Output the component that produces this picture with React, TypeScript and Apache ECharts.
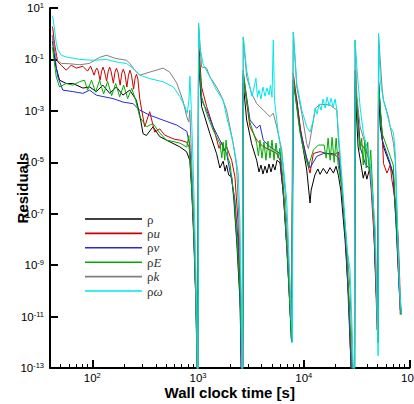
import React, { useEffect, useRef } from "react";
import * as echarts from "echarts";

type Pt = [number, number];

const seriesNames = ["ρ", "ρu", "ρv", "ρE", "ρk", "ρω"];
const xMajorTicks = [100, 1000, 10000, 100000];
const xMinorTicks = [
  50, 60, 70, 80, 90,
  200, 300, 400, 500, 600, 700, 800, 900,
  2000, 3000, 4000, 5000, 6000, 7000, 8000, 9000,
  20000, 30000, 40000, 50000, 60000, 70000, 80000, 90000,
];
const yMajorTicks = [1e-13, 1e-11, 1e-9, 1e-7, 1e-5, 1e-3, 1e-1, 10];

const rho: Pt[] = [
  [41.8, 0.5], [42.3, 0.42], [44.9, 0.06], [49.0, 0.0156], [56.7, 0.0116], [65.5, 0.0116],
  [81.5, 0.0077], [94.3, 0.0085], [109, 0.0056], [126, 0.01], [146, 0.0048], [169, 0.0085],
  [195, 0.0041], [226, 0.0064], [261, 0.0026], [281, 0.0007], [302, 1.3e-4], [325, 1.1e-4],
  [375, 2.4e-4], [434, 1.0e-4], [502, 7.3e-5], [671, 4.0e-5], [778, 2.6e-5], [836, 1.2e-5],
  [873, 8e-7], [912, 1e-8], [953, 4.5e-11], [990, 1e-13],
  [1005, 1e-14], [1011, 0.093], [1080, 0.0015], [1294, 1.3e-4], [1496, 2.2e-5], [1610, 6e-6],
  [1730, 1.1e-5], [1800, 4.5e-6], [1862, 7.8e-6], [1950, 3.2e-6], [2080, 2.7e-6], [2185, 3.4e-7],
  [2333, 6e-9], [2490, 4.5e-11], [2570, 1e-13],
  [2640, 1e-14], [2676, 0.0116], [2884, 4.4e-4], [3213, 5.3e-5], [3585, 1.2e-5], [3770, 4.2e-6],
  [3938, 7.8e-6], [4114, 3.5e-6], [4298, 7.1e-6], [4489, 3.8e-6], [4690, 8.6e-6], [4898, 4.2e-6],
  [5117, 8.6e-6], [5345, 5e-6], [5584, 1.2e-5], [5962, 9.4e-6], [6361, 8.3e-7], [6950, 4e-9],
  [7650, 1.3e-12],
  [7960, 0.01], [8590, 0.0026], [9580, 7.3e-5], [10670, 5e-6], [11460, 2.6e-7], [11750, 8.3e-7],
  [12730, 3.2e-6], [13600, 5.5e-6], [14250, 3.4e-6], [15300, 5.8e-6], [16520, 3.6e-6],
  [17700, 6.2e-6], [19090, 3.8e-6], [20200, 7e-6], [21290, 3e-6], [22390, 8.3e-7],
  [24580, 9.6e-9], [26670, 4.5e-11], [28060, 1e-13],
  [30200, 1e-14], [30580, 0.0085], [32650, 4e-5], [35500, 5e-6], [36500, 2.4e-6], [38070, 4.5e-6],
  [39500, 2.2e-6], [42460, 6.8e-6], [45380, 1.4e-7], [48410, 1.1e-10], [50580, 1e-12],
  [50930, 0.0064], [52840, 2.4e-4], [56750, 4e-5], [61180, 1.7e-5], [65740, 7.8e-6],
  [70180, 3.2e-6], [74970, 3.8e-8], [80010, 1.1e-10], [83590, 1.2e-11],
];

const rhoU: Pt[] = [
  [41.8, 1.9], [42.3, 1.6], [43.9, 0.42], [45.9, 0.146], [47.2, 0.08], [50.8, 0.06], [56.7, 0.038],
  [63.2, 0.06], [70.5, 0.046], [81.5, 0.054], [90.2, 0.035], [96.3, 0.055], [104.0, 0.0244],
  [107.5, 0.038], [110.3, 0.046], [113.2, 0.038], [118.6, 0.0156], [122.5, 0.035], [126.3, 0.05],
  [130.2, 0.035], [136.6, 0.0143], [141.5, 0.035], [145.9, 0.05], [150.4, 0.035], [158.1, 0.0119],
  [163.8, 0.032], [169.2, 0.0456], [174.9, 0.032], [183.4, 0.01], [190.0, 0.029], [196.3, 0.0417],
  [202.9, 0.029], [212.3, 0.0084], [219.9, 0.0244], [227.2, 0.038], [234.8, 0.0244], [245.8, 0.007],
  [254.0, 0.0187], [261.8, 0.0267], [270.0, 0.0171], [280.8, 0.0031], [293.3, 0.00107],
  [313, 2.4e-4], [349, 9.3e-4], [389, 1.5e-4], [434, 2.0e-4], [484, 1.14e-4], [540, 9.4e-5],
  [602, 7.8e-5], [671, 7.3e-5], [778, 6.1e-5], [824, 3.9e-5], [855, 7.8e-6], [893, 3.4e-7],
  [933, 1.6e-9], [975, 3e-12], [995, 1e-14],
  [1005, 1e-14], [1011, 0.56], [1080, 0.0085], [1205, 0.0015], [1294, 6e-4], [1443, 1.4e-4],
  [1580, 3.5e-5], [1671, 6e-5], [1760, 2.8e-5], [1862, 4e-5], [2080, 1.2e-5], [2233, 2.7e-6],
  [2384, 5.7e-8], [2518, 4.5e-11], [2580, 1e-14],
  [2640, 1e-14], [2676, 0.021], [3098, 2.4e-4], [3590, 7.3e-5], [4140, 4e-5], [4792, 3e-5],
  [5550, 2.2e-5], [5959, 1.2e-5], [6490, 3.4e-7], [7093, 1.6e-9], [7650, 1.3e-12],
  [7960, 0.029], [8590, 0.0026], [9212, 2.4e-4], [10670, 1.2e-5], [11460, 3.8e-6], [12330, 2.2e-5],
  [14250, 2.6e-5], [16520, 2.2e-5], [19090, 1.9e-5], [21290, 2.5e-5], [22700, 2e-6],
  [24580, 2.5e-8], [26360, 1.1e-10], [28060, 1e-13],
  [30200, 1e-14], [30580, 0.038], [31770, 0.0026], [34110, 5.3e-5], [36730, 4e-5], [40930, 1.7e-5],
  [43450, 8.3e-7], [46340, 1e-8], [49550, 3e-12],
  [50930, 0.0156], [52840, 0.00107], [55180, 1.3e-4], [56750, 9e-6], [61180, 3.8e-6],
  [65740, 7.8e-6], [68260, 2e-6], [70630, 8.3e-7], [74970, 1.4e-7], [78340, 9.6e-9],
  [80800, 2.7e-10], [81700, 1.2e-11],
];

const rhoV: Pt[] = [
  [41.8, 0.8], [42.3, 0.65], [45.6, 0.051], [47.2, 0.021], [52.6, 0.0064], [65.5, 0.0056],
  [81.5, 0.0048], [94.3, 0.0064], [109, 0.0041], [126, 0.0036], [157, 0.003], [195, 0.0022],
  [243, 0.0019], [281, 0.00107], [349, 6.8e-4], [464, 4.4e-4], [629, 2.8e-4], [783, 1.6e-4],
  [836, 4.7e-5], [873, 1e-6], [912, 2e-8], [953, 6e-11], [990, 1e-14],
  [1005, 1e-14], [1011, 0.23], [1080, 0.0026], [1205, 0.00107], [1390, 2.4e-4], [1671, 5.3e-5],
  [1862, 2.2e-5], [2080, 2e-6], [2233, 3.4e-7], [2384, 9.6e-9], [2518, 1.8e-11], [2580, 1e-14],
  [2640, 1e-14], [2676, 0.029], [3098, 4.4e-4], [3590, 2.1e-4], [3853, 2.8e-4], [4140, 7.3e-5],
  [4792, 4e-5], [5959, 2.2e-5], [6490, 3.4e-7], [7093, 6.5e-10], [7741, 1e-12],
  [7960, 0.0156], [9212, 1.8e-4], [10670, 1.5e-5], [11460, 6e-6], [13270, 1.7e-5], [15350, 2.2e-5],
  [19090, 2.2e-5], [21290, 1.5e-5], [23060, 8.3e-7], [25180, 4e-9], [28060, 1e-13],
  [30200, 1e-14], [30580, 0.0156], [34110, 4e-5], [38070, 9e-6], [42460, 5e-6], [45380, 1.4e-7],
  [48410, 1.1e-10], [50580, 1.3e-12],
  [50930, 0.0156], [55180, 7.3e-5], [61180, 2.2e-5], [65740, 9e-6], [70180, 3.2e-6],
  [74970, 2.5e-8], [80010, 1.1e-10], [81700, 1.8e-11],
];

const rhoE: Pt[] = [
  [41.8, 0.3], [42.3, 0.23], [45.6, 0.021], [49.0, 0.0085], [56.7, 0.0116], [65.5, 0.01],
  [75.8, 0.0136], [84.5, 0.0156], [90.2, 0.0064], [98.4, 0.0156], [107.4, 0.0053], [117.3, 0.0156],
  [128, 0.0045], [139.6, 0.014], [152.4, 0.0039], [166.3, 0.0116], [181.6, 0.0035], [198, 0.01],
  [216, 0.003], [236, 0.0075], [257, 0.0026], [281, 5.8e-4], [325, 2.4e-4], [375, 3.2e-4],
  [434, 1.4e-4], [502, 7.3e-5], [671, 5.6e-5], [783, 3.9e-5], [818, 1.1e-4], [836, 1.9e-5],
  [873, 9e-7], [912, 1.5e-8], [953, 5e-11], [990, 1e-14],
  [1005, 1e-14], [1011, 0.17], [1080, 0.0036], [1205, 8e-4], [1390, 1.8e-4], [1610, 5.3e-5],
  [1680, 1.5e-5], [1730, 6e-5], [1790, 1.2e-5], [1840, 7.3e-5], [1920, 1.5e-5], [2002, 9e-6],
  [2185, 5.3e-7], [2333, 9.6e-9], [2490, 1.1e-10], [2601, 1e-13],
  [2640, 1e-14], [2676, 0.038], [2884, 0.0026], [3098, 3.6e-4], [3585, 5.6e-5], [3729, 1.75e-5],
  [3853, 7.3e-5], [4025, 1.45e-5], [4205, 6.1e-5], [4392, 1.2e-5], [4586, 6.7e-5], [4792, 1.45e-5],
  [5006, 7.3e-5], [5230, 1.2e-5], [5463, 5.6e-5], [5707, 1.45e-5], [5962, 3.6e-5], [6361, 2e-6],
  [6950, 4e-9], [7650, 1.3e-12],
  [7960, 0.0156], [9212, 1.4e-4], [10270, 1.7e-5], [11060, 6.8e-6], [12330, 3e-5], [13740, 4.7e-5],
  [15576, 4.7e-5], [16273, 1.45e-5], [16997, 8.7e-5], [17758, 1.2e-5], [18544, 9.4e-5],
  [19378, 1e-5], [20242, 8.7e-5], [21143, 7.8e-6], [23060, 8.3e-7], [25470, 4e-9], [28630, 1e-13],
  [30200, 1e-14], [30580, 0.021], [32920, 1.37e-4], [34180, 3e-5], [35310, 8.7e-5], [36490, 7.8e-6],
  [37700, 7.3e-5], [38960, 6e-6], [40250, 6.1e-5], [41590, 5e-6], [42980, 3e-5], [45380, 3.4e-7],
  [48410, 2.7e-10], [50580, 1e-12],
  [50930, 0.0116], [55180, 1.3e-4], [61180, 4e-5], [65740, 1.7e-5], [70180, 7.8e-6],
  [74970, 5.7e-8], [80010, 2.7e-10], [83590, 1.2e-11],
];

const rhoK: Pt[] = [
  [41.8, 0.9], [43.9, 0.2], [46.9, 0.09], [51, 0.07], [61, 0.068], [76, 0.062], [94, 0.07],
  [117, 0.12], [136, 0.146], [165, 0.11], [211, 0.093], [226, 0.071], [252, 0.038], [281, 0.0244],
  [349, 0.032], [467, 0.046], [540, 0.032], [629, 0.012], [718, 0.0026], [783, 5.8e-4],
  [818, 3.7e-4], [836, 0.00107], [863, 3e-5], [912, 5.7e-8], [963, 7.4e-12], [985, 1e-14],
  [1005, 1e-14], [1011, 2.6], [1080, 0.051], [1205, 0.046], [1294, 0.021], [1496, 0.0085],
  [1671, 0.0036], [1862, 0.00107], [2002, 2.4e-4], [2153, 5.3e-5], [2317, 6.8e-6], [2436, 5.7e-8],
  [2547, 4.5e-11], [2590, 1e-14],
  [2650, 1e-14], [2676, 0.75], [2884, 0.021], [3213, 0.0048], [3590, 0.0019], [4140, 0.00107],
  [4792, 5.9e-4], [5150, 8.2e-4], [5550, 2.4e-4], [6190, 3e-5], [6645, 8.3e-7], [7093, 4e-9],
  [7590, 7.4e-12],
  [7960, 1.17], [8590, 0.0085], [9580, 8e-4], [10670, 5.3e-5], [11060, 3.4e-5], [11460, 7.3e-5],
  [12330, 4.4e-4], [12940, 0.0013], [14430, 0.0018], [17720, 0.0017], [20550, 0.00107],
  [21290, 7.3e-5], [22030, 1.2e-5], [23530, 3.4e-7], [25560, 6e-9], [27410, 1.1e-10], [28950, 1e-13],
  [30200, 1e-14], [30580, 0.56], [31770, 0.0036], [34110, 2.4e-4], [38070, 5.3e-5], [42460, 7e-6],
  [44360, 4e-7], [47570, 3e-9], [50000, 1e-12],
  [50930, 1.0], [55200, 0.0064], [56750, 0.0026], [63100, 5.9e-4], [65740, 2.4e-4], [70630, 5.3e-5],
  [73320, 1.2e-5], [76590, 5.7e-8], [80900, 4.5e-11], [82000, 2e-11],
];

const rhoOmega: Pt[] = [
  [41.8, 5.0], [42.3, 4.5], [44, 1.4], [45.7, 0.42], [47.4, 0.23], [51, 0.145], [56.5, 0.125],
  [76, 0.1], [102, 0.093], [136, 0.1], [170, 0.079], [211, 0.069], [243, 0.045], [281, 0.0245],
  [349, 0.018], [467, 0.0135], [584, 0.0085], [673, 0.0036], [752, 0.00145], [790, 0.0008],
  [820, 0.0026], [838, 0.022], [857, 0.0026], [890, 3e-5], [935, 2.5e-8], [977, 8e-12], [1000, 1e-14],
  [1006, 1e-14], [1011, 2.6], [1040, 0.3], [1117, 0.065], [1294, 0.021], [1496, 0.0064],
  [1730, 0.0026], [1862, 5.9e-4], [2080, 1.0e-4], [2233, 2.3e-5], [2400, 3.8e-6], [2490, 5.7e-8],
  [2570, 4.5e-11], [2620, 1e-14],
  [2655, 1e-14], [2680, 0.75], [2884, 0.038], [3098, 0.0084], [3236, 0.0037], [3381, 0.0077],
  [3531, 0.0187], [3649, 0.0034], [3770, 0.0064], [3938, 0.0029], [4114, 0.0084], [4298, 0.0037],
  [4489, 0.0077], [4690, 0.0041], [4845, 0.01], [5006, 0.0034], [5150, 0.56], [5285, 0.0026],
  [5740, 1.4e-4], [6410, 7.1e-6], [6900, 3.4e-7], [7270, 1.6e-9], [7800, 1e-12],
  [7960, 1.17], [8590, 0.0116], [9580, 0.00107], [10670, 2.4e-4], [11460, 1.5e-4], [12330, 4.4e-4],
  [12796, 0.00128], [13366, 7.5e-4], [13963, 0.00183], [14588, 0.00107], [15236, 0.0029],
  [15914, 0.00128], [16626, 0.0034], [17366, 0.00153], [18143, 0.0031], [18951, 0.0014],
  [19800, 0.0029], [20550, 0.00107], [21290, 1.4e-4], [22030, 2.3e-5], [23700, 4.6e-7],
  [25560, 5e-9], [27410, 6.5e-10], [29510, 1e-13],
  [30300, 1e-14], [30580, 0.56], [31770, 0.051], [34110, 0.0014], [36730, 1.3e-4], [39550, 4e-5],
  [42460, 9e-6], [44130, 1.1e-6], [47570, 2.5e-8], [50500, 3e-13],
  [50930, 1.0], [52840, 0.0156], [56750, 0.0026], [61180, 8e-4], [65740, 2.4e-4], [70630, 1.4e-4],
  [73320, 2.3e-5], [76590, 5.7e-8], [80010, 2.7e-10], [83590, 1.2e-11],
];

const seriesData: Pt[][] = [rho, rhoU, rhoV, rhoE, rhoK, rhoOmega];
const seriesColors = ["#000000", "#cc0000", "#2a2ad0", "#00aa00", "#808080", "#00e6e6"];

const SANS = "Liberation Sans, Arial, sans-serif";
const SERIF = "Liberation Serif, Times New Roman, serif";

function powLabel(v: number) {
  const e = Math.round(Math.log10(v));
  return `{b|10}{s|${e}}`;
}

const labelRich = {
  b: { fontFamily: SANS, fontSize: 11.5, color: "#000", lineHeight: 13 },
  s: { fontFamily: SANS, fontSize: 7.5, color: "#000", lineHeight: 8, verticalAlign: "top" },
};

export default function App() {
  const ref = useRef<HTMLDivElement>(null);
  useEffect(() => {
    document.body.style.margin = "0";
    const chart = echarts.init(ref.current!, null, { renderer: "svg" });
    chart.setOption({
      animation: false,
      backgroundColor: "#ffffff",
      grid: { left: 50, right: 4.5, top: 8, bottom: 36, outerBoundsMode: "none" },
      legend: {
        data: seriesNames,
        orient: "vertical",
        left: 85,
        top: 212.5,
        padding: 0,
        icon: "rect",
        itemWidth: 57,
        itemHeight: 1.6,
        itemGap: 1.4,
        selectedMode: false,
        formatter: (name: string) =>
          name.length > 1 ? `{g|${name[0]}}{i|${name.slice(1)}}` : `{g|${name}}`,
        textStyle: {
          rich: {
            g: { fontFamily: SERIF, fontSize: 13, color: "#333", lineHeight: 10 },
            i: { fontFamily: SERIF, fontSize: 13, fontStyle: "italic", color: "#333", lineHeight: 10 },
          },
        },
      },
      xAxis: [
        {
          type: "log",
          min: 39.81,
          max: 100000,
          position: "bottom",
          name: "Wall clock time [s]",
          nameLocation: "middle",
          nameGap: 17,
          nameMoveOverlap: false,
          nameTextStyle: { fontFamily: SANS, fontSize: 15, fontWeight: "bold", color: "#000" },
          axisLine: { show: true, onZero: false, lineStyle: { color: "#000", width: 2 } },
          axisTick: { show: true, inside: true, length: 8, customValues: xMajorTicks, lineStyle: { color: "#000", width: 2 } },
          axisLabel: { show: true, margin: 3, customValues: xMajorTicks, formatter: powLabel, rich: labelRich },
          splitLine: { show: false },
          minorTick: { show: false },
        },
        {
          type: "log",
          min: 39.81,
          max: 100000,
          position: "bottom",
          axisLine: { show: false, onZero: false },
          axisTick: { show: true, inside: true, length: 4, customValues: xMinorTicks, lineStyle: { color: "#000", width: 1 } },
          axisLabel: { show: false },
          splitLine: { show: false },
        },
      ],
      yAxis: {
        type: "log",
        min: 1e-13,
        max: 10,
        name: "Residuals",
        nameLocation: "middle",
        nameGap: 20,
        nameMoveOverlap: false,
        nameTextStyle: { fontFamily: SANS, fontSize: 15, fontWeight: "bold", color: "#000" },
        axisLine: { show: true, lineStyle: { color: "#000", width: 2 } },
        axisTick: { show: true, inside: true, length: 8, customValues: yMajorTicks, lineStyle: { color: "#000", width: 2 } },
        axisLabel: { show: true, margin: 6, customValues: yMajorTicks, formatter: powLabel, rich: labelRich },
        splitLine: { show: false },
      },
      series: seriesData.map((d, i) => ({
        name: seriesNames[i],
        type: "line",
        xAxisIndex: 0,
        data: d,
        symbol: "none",
        showSymbol: false,
        clip: true,
        lineStyle: { color: seriesColors[i], width: 1 },
        itemStyle: { color: seriesColors[i] },
      })),
    });
    return () => chart.dispose();
  }, []);
  return <div ref={ref} style={{ width: 414, height: 404 }} />;
}
